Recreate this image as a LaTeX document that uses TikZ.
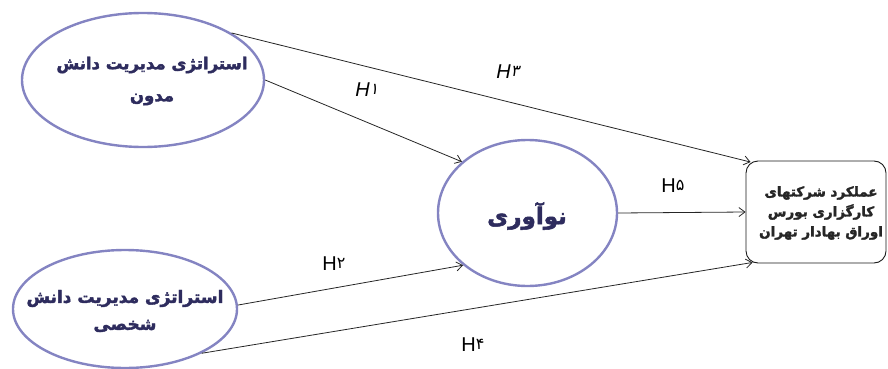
\documentclass[tikz,border=0pt]{standalone}
\usepackage{fontspec}
\usetikzlibrary{shapes.geometric,arrows.meta}
\TeXXeTstate=1
\newfontfamily\arabicfont[Script=Arabic,FakeBold=2.2]{DejaVu Sans Bold}
\newfontfamily\labelfont{Liberation Sans}
\newfontfamily\digitfont{DejaVu Sans}
\newfontfamily\digitslant[FakeSlant=0.2]{DejaVu Sans}
\definecolor{ellblue}{HTML}{8484C2}
\definecolor{navytext}{HTML}{2E2C5E}
\newcommand{\hdig}[2]{{\labelfont #1H}\raisebox{2pt}{\fontsize{16}{16}\selectfont #2}}
\begin{document}
\begin{tikzpicture}[x=1pt,y=-1pt,
  ell/.style={ellipse, draw=ellblue, line width=2.4pt, inner sep=0pt, fill=white},
  elltext/.style={text=navytext, inner sep=0pt, align=center},
  target/.style={draw=black!90, rounded corners=12pt, line width=0.9pt, inner sep=0pt, fill=white},
  boxtext/.style={text=black!85, inner sep=0pt, align=center, font=\arabicfont\fontsize{13.5}{20}\selectfont},
  conn/.style={draw=black!85, line width=0.8pt, -{Straight Barb[length=6pt,width=9pt]}},
  hlab/.style={inner sep=0pt, font=\fontsize{20}{20}\selectfont}]
\useasboundingbox (0,0) rectangle (888,369);
% shapes
\node[ell, minimum width=242pt, minimum height=134pt] (e1) at (143,80) {};
\node[ell, minimum width=224pt, minimum height=118pt] (e2) at (125,309) {};
\node[ell, minimum width=179pt, minimum height=146pt] (e3) at (527.5,213) {};
\node[target, minimum width=140pt, minimum height=102pt] (box) at (816,212) {};
% texts
\node[elltext, font=\arabicfont\fontsize{16.5}{32}\selectfont] (t1) at (152,81)
  {\beginR استراتژی مدیریت دانش\endR\\\beginR مدون\endR};
\node[elltext, font=\arabicfont\fontsize{17}{27}\selectfont] (t2) at (125,311)
  {\beginR استراتژی مدیریت دانش\endR\\\beginR شخصی\endR};
\node[elltext, font=\arabicfont\fontsize{23}{28}\selectfont] (t3) at (527,216)
  {\beginR نوآوری\endR};
\node[boxtext] (t4) at (821,213)
  {\beginR عملکرد شرکتهای\endR\\\beginR کارگزاری بورس\endR\\\beginR اوراق بهادار تهران\endR};
% connector end points on the target box
\coordinate (b3) at ([xshift=5pt,yshift=-1.5pt]box.north west);
\coordinate (b4) at ([xshift=7pt,yshift=1pt]box.south west);
% connectors
\draw[conn] (e1.east) -- (e3.142);
\draw[conn] (e1.28) -- (b3);
\draw[conn] (e2.2) -- (e3.219);
\draw[conn] (e2.330) -- (b4);
\draw[conn] (e3.east) -- (box.west);
% labels
\node[hlab] (h1) at (367,90) {\hdig{\itshape}{\digitslant ۱}};
\node[hlab] (h3) at (508,72) {\hdig{\itshape}{\digitslant ۳}};
\node[hlab] (h2) at (334,264) {\hdig{}{\digitfont ۲}};
\node[hlab] (h4) at (473,345) {\hdig{}{\digitfont ۴}};
\node[hlab] (h5) at (673,186) {\hdig{}{\digitfont ۵}};
\end{tikzpicture}
\end{document}
